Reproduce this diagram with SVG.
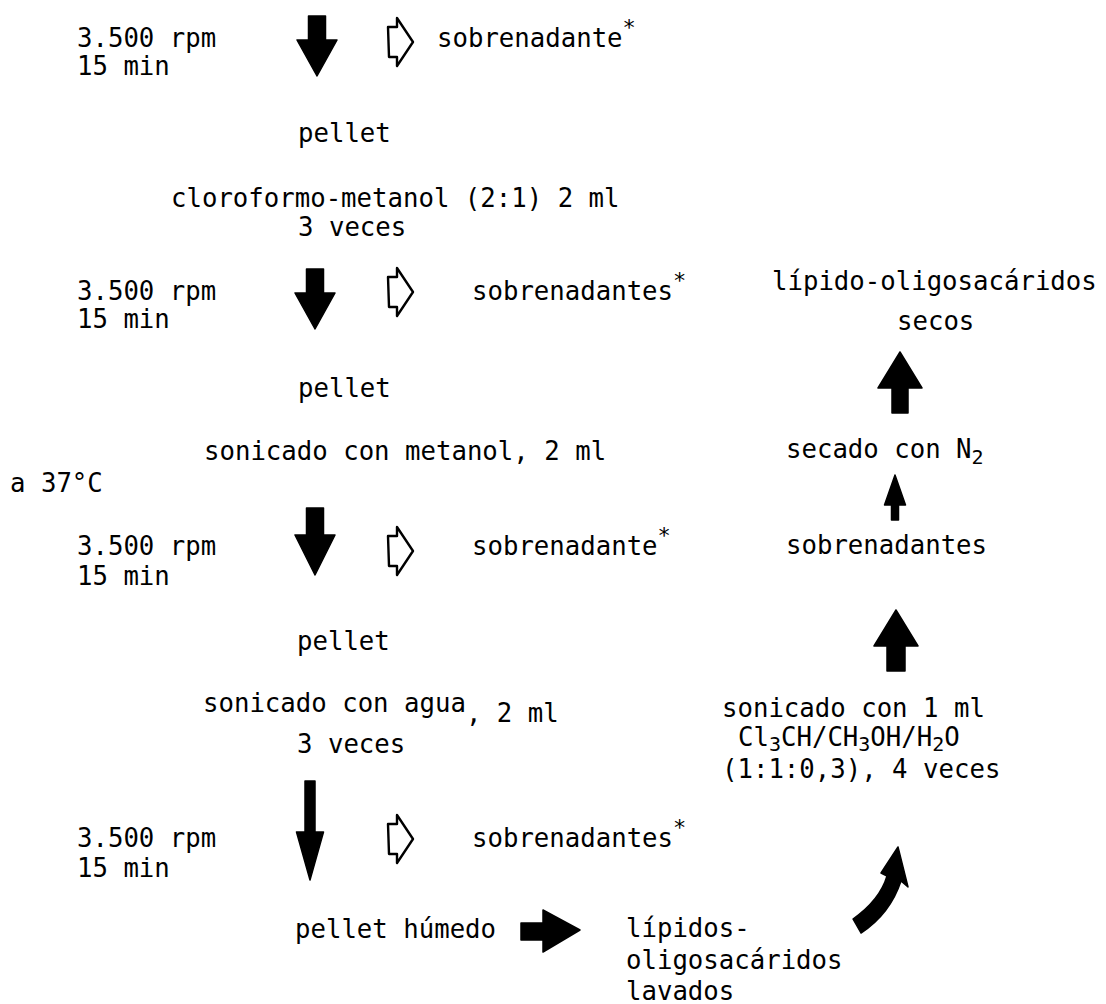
<svg xmlns="http://www.w3.org/2000/svg" width="1106" height="1004" viewBox="0 0 1106 1004">
  <style>
    text { font-family: "DejaVu Sans Mono", "Liberation Mono", monospace; font-size: 25.7px; fill: #000; }
    .sup { font-size: 22px; }
    .sub { font-size: 20px; }
    .solid { fill: #000; stroke: #000; stroke-width: 1.5; stroke-linejoin: round; }
    .hollow { fill: none; stroke: #000; stroke-width: 2.4; stroke-linejoin: round; }
  </style>
  <defs>
    <!-- open block arrow pointing right, used for the discarded supernatants -->
    <path id="open-arrow" class="hollow" d="M0,9 L9,9 L9,0 L25,24 L9,48 L9,39 L1,39 Z"/>
  </defs>
  <rect width="1106" height="1004" fill="#fff"/>

  <g id="connectors">
    <!-- main downward centrifugation steps -->
    <path class="solid" d="M308.5,16 L325.5,16 L325.5,40 L337,40 L317,76 L297,40 L308.5,40 Z"/>
    <path class="solid" d="M306.5,269 L323.5,269 L323.5,293 L335,293 L315,329 L295,293 L306.5,293 Z"/>
    <path class="solid" d="M306.5,508 L323.5,508 L323.5,535 L335,535 L315,575 L295,535 L306.5,535 Z"/>
    <path class="solid" d="M305,781 L315,781 L315,832 L323.5,832 L310,880 L296.5,832 L305,832 Z"/>
    <!-- open arrows to the supernatants -->
    <use href="#open-arrow" x="388" y="18"/>
    <use href="#open-arrow" x="388" y="268"/>
    <use href="#open-arrow" x="388" y="527"/>
    <use href="#open-arrow" x="388" y="815"/>
    <!-- pellet húmedo to washed lipids -->
    <path class="solid" d="M521,923 L543,923 L543,910 L580,930 L543,952 L543,940 L521,940 Z"/>
    <!-- curved arrow up into the extraction column -->
    <path class="solid" d="M898,847 L908,887 L901,881 C894,902 881,920 861,933 L853,919 C870,907 882,893 887,876 L881,873 Z"/>
    <!-- upward steps in the right column -->
    <path class="solid" d="M887,671 L905,671 L905,646 L918,646 L896,610 L874,646 L887,646 Z"/>
    <path class="solid" d="M891.5,520 L898.5,520 L898.5,505 L905.5,505 L895,475 L884.5,505 L891.5,505 Z"/>
    <path class="solid" d="M892,413 L908,413 L908,388 L922,388 L900,352 L878,388 L892,388 Z"/>
  </g>

  <g id="spin-1">
    <text x="77" y="47">3.500 rpm</text>
    <text x="77" y="75">15 min</text>
  </g>
  <g id="sup-1"><text x="437" y="47">sobrenadante<tspan class="sup" dy="-12">*</tspan></text></g>
  <g id="pellet-1"><text x="298" y="142">pellet</text></g>
  <g id="wash-1">
    <text x="171" y="207">cloroformo-metanol (2:1) 2 ml</text>
    <text x="298" y="236">3 veces</text>
  </g>
  <g id="spin-2">
    <text x="77" y="300">3.500 rpm</text>
    <text x="77" y="328">15 min</text>
  </g>
  <g id="sup-2"><text x="472" y="300">sobrenadantes<tspan class="sup" dy="-12">*</tspan></text></g>
  <g id="pellet-2"><text x="298" y="397">pellet</text></g>
  <g id="wash-2">
    <text x="204" y="460">sonicado con metanol, 2 ml</text>
    <text x="10" y="492">a 37°C</text>
  </g>
  <g id="spin-3">
    <text x="77" y="555">3.500 rpm</text>
    <text x="77" y="585">15 min</text>
  </g>
  <g id="sup-3"><text x="472" y="555">sobrenadante<tspan class="sup" dy="-12">*</tspan></text></g>
  <g id="pellet-3"><text x="297" y="650">pellet</text></g>
  <g id="wash-3">
    <text x="203" y="712">sonicado con agua<tspan dy="10">, 2 ml</tspan></text>
    <text x="297" y="753">3 veces</text>
  </g>
  <g id="spin-4">
    <text x="77" y="847">3.500 rpm</text>
    <text x="77" y="877">15 min</text>
  </g>
  <g id="sup-4"><text x="472" y="847">sobrenadantes<tspan class="sup" dy="-12">*</tspan></text></g>
  <g id="pellet-wet"><text x="295" y="938">pellet húmedo</text></g>
  <g id="washed-lipids">
    <text x="626" y="937">lípidos-</text>
    <text x="626" y="969">oligosacáridos</text>
    <text x="626" y="1000">lavados</text>
  </g>
  <g id="extraction">
    <text x="722" y="717">sonicado con 1 ml</text>
    <text x="738" y="746">Cl<tspan class="sub" dy="5">3</tspan><tspan dy="-5">CH/CH</tspan><tspan class="sub" dy="5">3</tspan><tspan dy="-5">OH/H</tspan><tspan class="sub" dy="5">2</tspan><tspan dy="-5">O</tspan></text>
    <text x="722" y="778">(1:1:0,3), 4 veces</text>
  </g>
  <g id="sup-pooled"><text x="786" y="554">sobrenadantes</text></g>
  <g id="drying"><text x="786" y="458">secado con N<tspan class="sub" dy="6">2</tspan></text></g>
  <g id="dry-lipids">
    <text x="772" y="290">lípido-oligosacáridos</text>
    <text x="897" y="330">secos</text>
  </g>
</svg>
